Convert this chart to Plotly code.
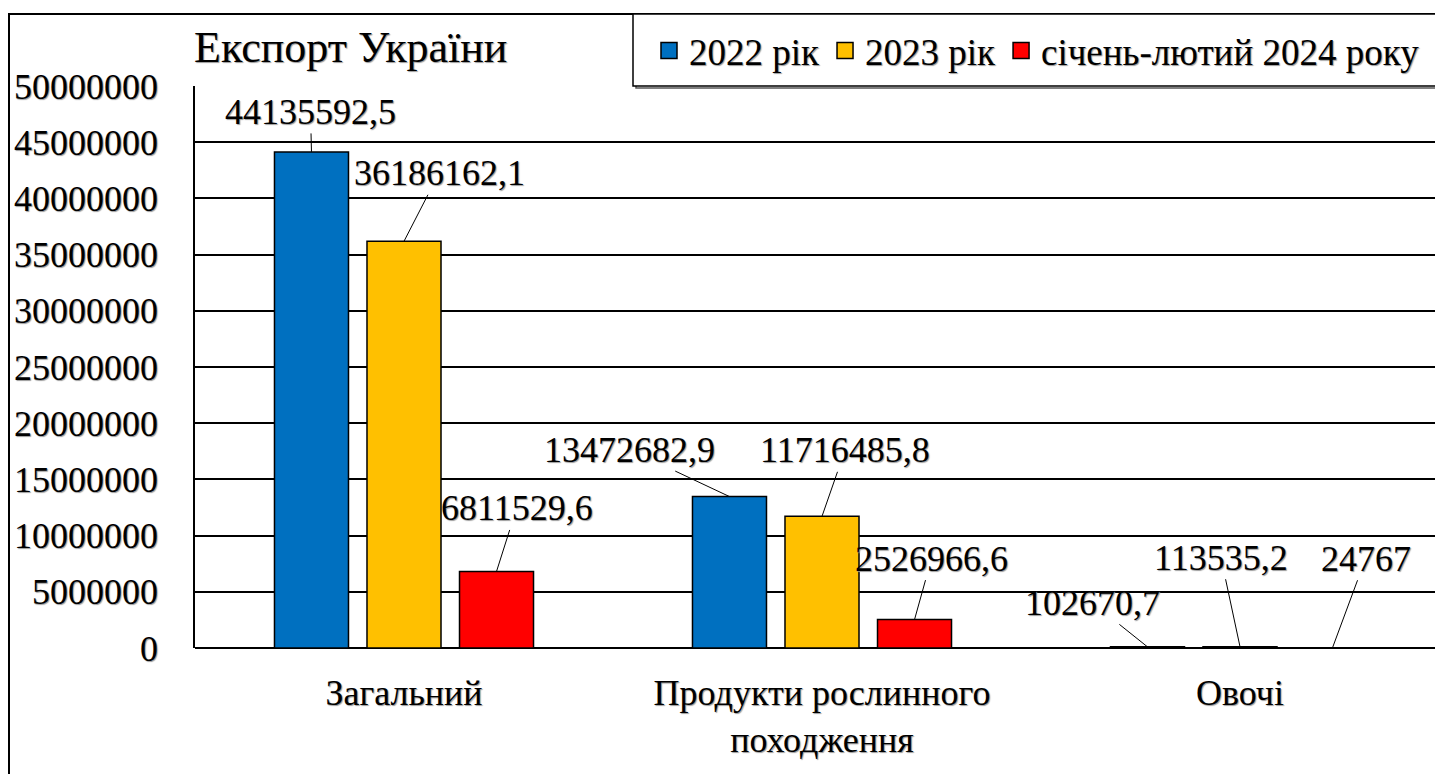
import plotly.graph_objects as go

categories = ["Загальний", "Продукти рослинного<br>походження", "Овочі"]
series_names = ["2022 рік", "2023 рік", "січень-лютий 2024 року"]
values_2022 = [44135592.5, 13472682.9, 102670.7]
values_2023 = [36186162.1, 11716485.8, 113535.2]
values_2024 = [6811529.6, 2526966.6, 24767]
colors = ["#0070C0", "#FFC000", "#FF0000"]
y_ticks = list(range(0, 50000001, 5000000))

# pixel offsets of each data label from the top of its bar
label_offsets = [
    [(-1, -40), (-100, -47), (-55, -44)],
    [(35, -68), (23, -66), (-19, -89)],
    [(20, -63), (17, -61), (33, -89)],
]

FAM = "Liberation Serif"
SHADOW = "1px 1px 1px #999"
FS = 36


def font(size=FS):
    return dict(family=FAM, size=size, color="black", shadow=SHADOW)


W, H = 1443, 774
OFF = 8  # browser body margin
ML, MR, MT, MB = 195 - OFF, 2, 86 - OFF, 774 - (648 - OFF)
PW = W - ML - MR
PH = H - MT - MB


def fmt(v):
    if float(v).is_integer():
        return str(int(v))
    return f"{v:.1f}".replace(".", ",")


def px_x(p):
    return (p - OFF - ML) / PW


def px_y(p):
    return 1 - (p - OFF - MT) / PH


all_values = [values_2022, values_2023, values_2024]
x_idx = list(range(len(categories)))

fig = go.Figure()
for name, vals, col in zip(series_names, all_values, colors):
    fig.add_trace(go.Bar(
        x=x_idx, y=vals, name=name, showlegend=False,
        marker=dict(color=col, line=dict(color="black", width=1.5)),
    ))
# legend entries with larger square swatches
for name, col in zip(series_names, colors):
    fig.add_trace(go.Scatter(
        x=[None], y=[None], mode="markers", name=name,
        marker=dict(symbol="square", size=17, color=col,
                    line=dict(color="black", width=1.5)),
    ))

bargap = 0.336
slot = (1 - bargap) / 3
annotations = []
for s, vals in enumerate(all_values):
    off = (s - 1) * slot
    for i, v in enumerate(vals):
        ax, ay = label_offsets[s][i]
        annotations.append(dict(
            x=i + off, y=v, xref="x", yref="y", text=fmt(v),
            showarrow=True, arrowhead=0, arrowwidth=1, arrowcolor="black",
            ax=ax, ay=ay, standoff=0, font=font(),
        ))

annotations.append(dict(
    text="Експорт України", xref="paper", yref="paper",
    x=px_x(350), y=px_y(47), xanchor="center", yanchor="middle",
    showarrow=False, font=font(44),
))

shapes = [
    dict(type="rect", xref="paper", yref="paper", x0=px_x(9), x1=px_x(W + 20),
         y0=px_y(H + 20), y1=px_y(14), line=dict(color="black", width=2)),
    dict(type="rect", xref="paper", yref="paper", x0=px_x(636), x1=px_x(W + 20),
         y0=px_y(88), y1=px_y(16), line=dict(color="#555", width=1.5)),
    dict(type="rect", xref="paper", yref="paper", x0=px_x(633), x1=px_x(W + 20),
         y0=px_y(86), y1=px_y(14), line=dict(color="black", width=1.5),
         fillcolor="white"),
]

fig.update_layout(
    width=W, height=H, autosize=False,
    margin=dict(l=ML, r=MR, t=MT, b=MB, autoexpand=False),
    paper_bgcolor="white", plot_bgcolor="white",
    barmode="group", bargap=bargap, bargroupgap=0.2,
    separators=", ",
    font=font(),
    showlegend=True,
    legend=dict(
        orientation="h", x=px_x(649), xanchor="left", y=px_y(51), yanchor="middle",
        font=font(37), bgcolor="rgba(0,0,0,0)", borderwidth=0,
        itemclick=False, traceorder="normal",
    ),
    xaxis=dict(
        tickvals=x_idx, ticktext=categories, range=[-0.5, -0.5 + PW / 418],
        showgrid=False, zeroline=False, showline=False,
        ticks="", ticklabelstandoff=20, tickfont=font(),
    ),
    yaxis=dict(
        range=[0, 50000000], tickvals=y_ticks, tickformat="d",
        showgrid=True, gridcolor="black", gridwidth=1.5,
        zeroline=True, zerolinecolor="black", zerolinewidth=2,
        showline=True, linecolor="black", linewidth=1.5,
        ticks="", ticklabelstandoff=28, tickfont=font(),
    ),
    annotations=annotations,
    shapes=shapes,
)

fig.write_html("out.html")
